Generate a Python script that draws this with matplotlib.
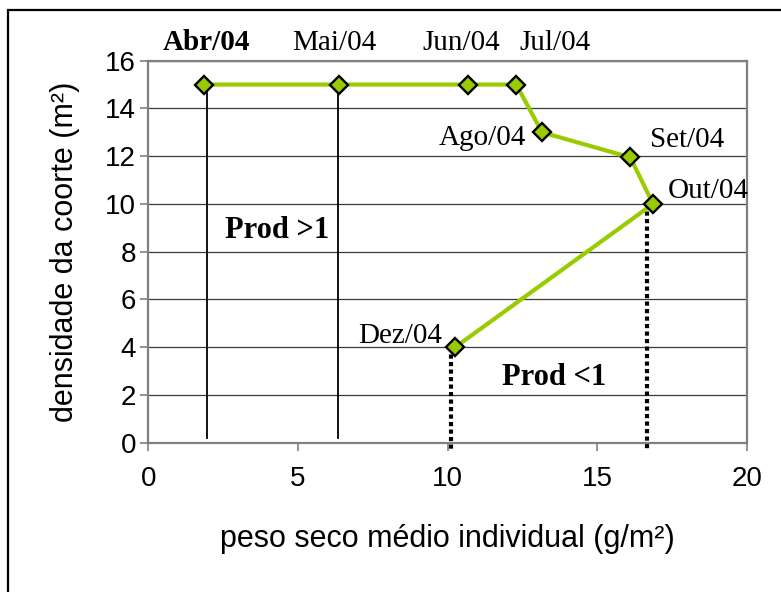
import matplotlib
matplotlib.use("Agg")
import matplotlib.pyplot as plt
from matplotlib.patches import Rectangle

# dados da coorte
meses = ["Abr/04", "Mai/04", "Jun/04", "Jul/04", "Ago/04", "Set/04", "Out/04", "Dez/04"]
peso = [1.86, 6.35, 10.69, 12.29, 13.15, 16.1, 16.86, 10.25]
densidade = [15, 15, 15, 15, 13, 11.95, 10, 4]

# linhas de referencia
linhas_cheias = [1.95, 6.33]
linhas_pontilhadas = [10.1, 16.65]

verde = "#99CC00"
serif = "Liberation Serif"
sans = "Liberation Sans"

fig = plt.figure(figsize=(7.81, 5.92), dpi=100)
ax = fig.add_axes([0.1901, 0.2522, 0.7664, 0.6453])

# moldura da figura
fig.patches.append(Rectangle((8 / 781, -0.1), 1.2, 1.1 - 10 / 592, transform=fig.transFigure,
                             fill=False, edgecolor="black", linewidth=1.6))

ax.set_xlim(0, 20)
ax.set_ylim(0, 16)
ax.set_xticks([0, 5, 10, 15, 20])
ax.set_yticks(range(0, 17, 2))
ax.yaxis.grid(True, color="#3a3a3a", linewidth=0.9)
ax.set_axisbelow(True)

for lado in ["top", "right", "left", "bottom"]:
    ax.spines[lado].set_color("#808080")
    ax.spines[lado].set_linewidth(1.6)

ax.tick_params(axis="both", colors="#808080", length=6, width=1.2, labelsize=20,
               labelcolor="black")
ax.tick_params(axis="x", pad=11)
ax.tick_params(axis="y", pad=3)
for lbl in ax.get_xticklabels() + ax.get_yticklabels():
    lbl.set_family(sans)

# linhas verticais cheias (Abr, Mai)
for i, x in enumerate(linhas_cheias):
    ax.plot([x, x], [densidade[i], 0.2], color="black", linewidth=1.3, zorder=2)

# linhas verticais pontilhadas (Dez, Out)
for x, y in zip(linhas_pontilhadas, [densidade[7], densidade[6]]):
    ax.plot([x, x], [y, -0.3], color="black", linewidth=3, linestyle=(0, (1, 0.8)),
            dash_capstyle="butt", zorder=2, clip_on=False)

ax.plot(peso, densidade, color=verde, linewidth=3, marker="D", markersize=9.5,
        markerfacecolor=verde, markeredgecolor="black", markeredgewidth=1.7, zorder=4,
        clip_on=False)

# rotulos dos meses
offsets = [(2, 42, "center", True), (-4, 42, "center", False), (-7, 42, "center", False),
           (39, 42, "center", False), (-16, -6, "right", False), (20, 17, "left", False),
           (15, 13, "left", False), (-13, 11, "right", False)]
for mes, x, y, (dx, dy, ha, negrito) in zip(meses, peso, densidade, offsets):
    ax.annotate(mes, (x, y), xytext=(dx, dy), textcoords="offset pixels", ha=ha, va="center",
                fontsize=21, family=serif, fontweight="bold" if negrito else "normal",
                annotation_clip=False)

ax.text(4.3, 8.9, "Prod >1", ha="center", va="center", fontsize=22, family=serif,
        fontweight="bold")
ax.text(13.56, 2.75, "Prod <1", ha="center", va="center", fontsize=22, family=serif,
        fontweight="bold")

ax.set_xlabel("peso seco médio individual (g/m²)", fontsize=22, family=sans, labelpad=23)
ax.set_ylabel("densidade da coorte (m²)", fontsize=22, family=sans, labelpad=18)

fig.savefig("out.png", dpi=100)
